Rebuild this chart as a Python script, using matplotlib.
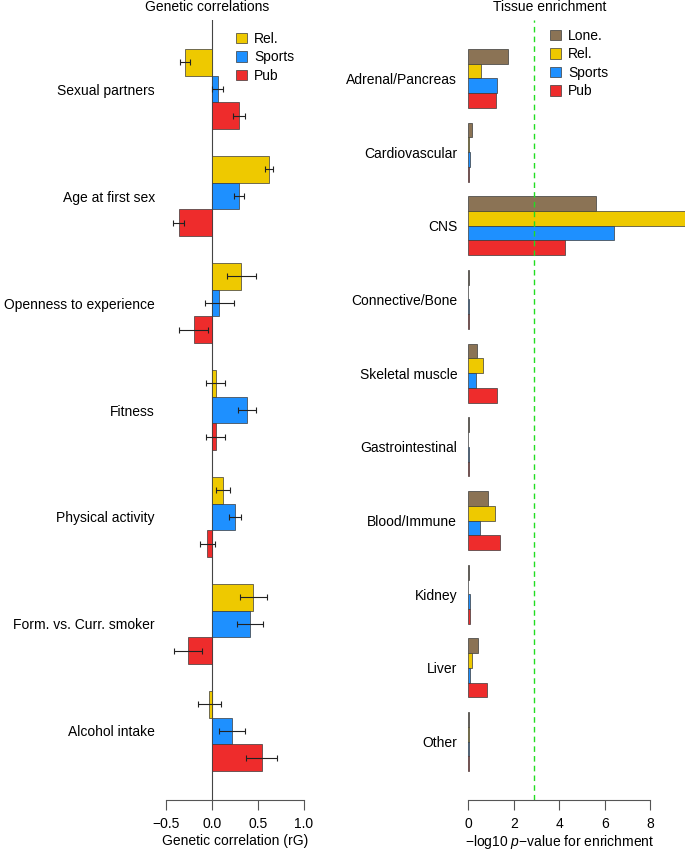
import numpy as np
import matplotlib
matplotlib.use("Agg")
import matplotlib.pyplot as plt
from matplotlib.patches import Patch

plt.rcParams['font.family'] = ['Liberation Sans', 'DejaVu Sans']
plt.rcParams['mathtext.fontset'] = 'custom'
plt.rcParams['mathtext.rm'] = 'Liberation Sans'
plt.rcParams['mathtext.it'] = 'Liberation Sans:italic'
plt.rcParams['font.size'] = 10

# genetic correlations (left panel)
traits = ['Sexual partners', 'Age at first sex', 'Openness to experience', 'Fitness',
          'Physical activity', 'Form. vs. Curr. smoker', 'Alcohol intake']
rg_rel = [-0.29, 0.62, 0.32, 0.04, 0.12, 0.45, -0.03]
err_rel = [0.055, 0.04, 0.155, 0.10, 0.075, 0.15, 0.125]
rg_sports = [0.06, 0.29, 0.08, 0.38, 0.25, 0.41, 0.22]
err_sports = [0.055, 0.055, 0.16, 0.10, 0.07, 0.14, 0.14]
rg_pub = [0.29, -0.36, -0.20, 0.04, -0.05, -0.26, 0.54]
err_pub = [0.065, 0.06, 0.16, 0.10, 0.08, 0.155, 0.17]

# tissue enrichment (right panel), -log10 p
tissues = ['Adrenal/Pancreas', 'Cardiovascular', 'CNS', 'Connective/Bone', 'Skeletal muscle',
           'Gastrointestinal', 'Blood/Immune', 'Kidney', 'Liver', 'Other']
enr_lone = [1.73, 0.16, 5.61, 0.02, 0.37, 0.02, 0.85, 0.03, 0.41, 0.03]
enr_rel = [0.57, 0.01, 9.60, 0.00, 0.66, 0.00, 1.19, 0.00, 0.15, 0.01]
enr_sports = [1.26, 0.06, 6.39, 0.05, 0.35, 0.03, 0.50, 0.08, 0.07, 0.04]
enr_pub = [1.23, 0.01, 4.23, 0.01, 1.26, 0.05, 1.41, 0.06, 0.81, 0.02]
threshold = 2.9

col_lone = '#8B7355'
col_rel = '#EEC900'
col_sports = '#1E90FF'
col_pub = '#EE2C2C'
edge = '#3a3a3a'

W, H = 685, 851
fig = plt.figure(figsize=(W / 100, H / 100), dpi=100)


def px_axes(x0, x1, y0, y1):
    return fig.add_axes([x0 / W, 1 - y1 / H, (x1 - x0) / W, (y1 - y0) / H])


def style_axis(ax, lo, hi):
    for s in ['top', 'right', 'left']:
        ax.spines[s].set_visible(False)
    ax.spines['bottom'].set_bounds(lo, hi)
    ax.spines['bottom'].set_color('#555555')
    ax.spines['bottom'].set_linewidth(0.8)
    ax.tick_params(axis='x', direction='out', length=7, width=0.8, color='#555555', pad=5, labelsize=10)
    ax.tick_params(axis='y', length=0, pad=8, labelsize=10)


# ---------- left panel ----------
axL = px_axes(166, 304, 20, 800)
n = len(traits)
base = 1 + 4 * np.arange(n)
series = [(rg_rel, err_rel, col_rel, 'Rel.'), (rg_sports, err_sports, col_sports, 'Sports'),
          (rg_pub, err_pub, col_pub, 'Pub')]
for j, (vals, errs, col, lab) in enumerate(series):
    y = base + j + 0.5
    axL.barh(y, vals, height=1.0, color=col, edgecolor=edge, linewidth=0.5, label=lab)
    axL.errorbar(vals, y, xerr=errs, fmt='none', ecolor='#222222', elinewidth=0.8, capsize=2.5, capthick=0.8)
axL.axvline(0, color='#444444', lw=0.8, zorder=0.5)
axL.set_xlim(-0.5, 1.0)
axL.set_ylim(29.08, -0.08)
axL.set_xticks([-0.5, 0.0, 0.5, 1.0])
axL.set_xticklabels(['\u22120.5', '0.0', '0.5', '1.0'])
axL.set_yticks(base + 1.5)
axL.set_yticklabels(traits)
style_axis(axL, -0.5, 1.0)
axL.set_xlabel('Genetic correlation (rG)', labelpad=2.5)
fig.text(207 / W, 1 - 7 / H, 'Genetic correlations', ha='center', va='center', fontsize=10)
axL.legend(handles=[Patch(facecolor=c, edgecolor=edge, linewidth=0.5, label=l) for _, _, c, l in series],
           loc='upper left', bbox_to_anchor=(236 / W, 1 - 32 / H), bbox_transform=fig.transFigure,
           frameon=False, borderpad=0, borderaxespad=0, handlelength=0.8, handleheight=0.8,
           handletextpad=0.5, labelspacing=0.32, fontsize=10)

# ---------- right panel ----------
axR = px_axes(468.3, 468.3 + 22.75 * 10, 20, 800)
m = len(tissues)
baseR = 1 + 5 * np.arange(m)
seriesR = [(enr_lone, col_lone, 'Lone.'), (enr_rel, col_rel, 'Rel.'),
           (enr_sports, col_sports, 'Sports'), (enr_pub, col_pub, 'Pub')]
for j, (vals, col, lab) in enumerate(seriesR):
    axR.barh(baseR + j + 0.5, vals, height=1.0, color=col, edgecolor=edge, linewidth=0.5, label=lab)
axR.axvline(threshold, color='#22DD22', lw=1.0, ls=(0, (4, 3)))
axR.set_xlim(0, 10)
axR.set_ylim(51.96, -0.96)
axR.set_xticks([0, 2, 4, 6, 8])
axR.set_yticks(baseR + 2)
axR.set_yticklabels(tissues)
style_axis(axR, 0, 8)
axR.set_xlabel('\u2212log10 $p$\u2212value for enrichment', labelpad=1.5, x=(559.3 - 468.3) / 227.5)
fig.text(550 / W, 1 - 7 / H, 'Tissue enrichment', ha='center', va='center', fontsize=10)
axR.legend(handles=[Patch(facecolor=c, edgecolor=edge, linewidth=0.5, label=l) for _, c, l in seriesR],
           loc='upper left', bbox_to_anchor=(550 / W, 1 - 29 / H), bbox_transform=fig.transFigure,
           frameon=False, borderpad=0, borderaxespad=0, handlelength=0.8, handleheight=0.8,
           handletextpad=0.5, labelspacing=0.32, fontsize=10)

fig.savefig('out.png', dpi=100)
